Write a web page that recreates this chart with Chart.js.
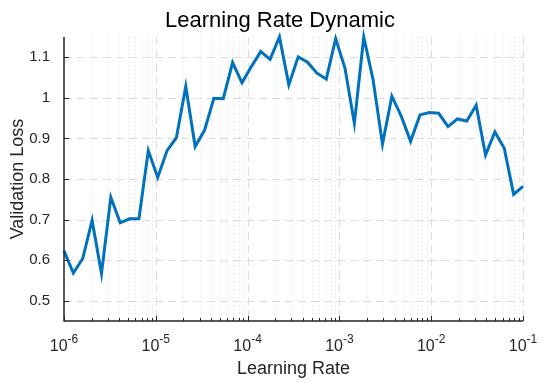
<!DOCTYPE html>
<html>
<head>
<meta charset="utf-8">
<script src="https://cdn.jsdelivr.net/npm/chart.js@4"></script>
<style>
  html, body { margin: 0; padding: 0; background: #ffffff; }
  #wrap { width: 550px; height: 386px; }
</style>
</head>
<body>
<div id="wrap"><canvas id="c" width="550" height="386"></canvas></div>
<script>
// ---- data ----
const learningRates = [
  1.000e-6, 1.265e-6, 1.600e-6, 2.024e-6, 2.560e-6, 3.237e-6, 4.095e-6, 5.179e-6, 6.551e-6, 8.286e-6,
  1.048e-5, 1.326e-5, 1.677e-5, 2.121e-5, 2.683e-5, 3.393e-5, 4.292e-5, 5.429e-5, 6.866e-5, 8.685e-5,
  1.099e-4, 1.389e-4, 1.758e-4, 2.223e-4, 2.812e-4, 3.556e-4, 4.498e-4, 5.690e-4, 7.197e-4, 9.103e-4,
  1.151e-3, 1.456e-3, 1.842e-3, 2.330e-3, 2.947e-3, 3.728e-3, 4.715e-3, 5.964e-3, 7.543e-3, 9.541e-3,
  1.207e-2, 1.526e-2, 1.931e-2, 2.442e-2, 3.089e-2, 3.907e-2, 4.942e-2, 6.251e-2, 7.906e-2, 1.000e-1
];
const validationLoss = [
  0.623, 0.568, 0.604, 0.698, 0.567, 0.755, 0.692, 0.702, 0.702, 0.870,
  0.804, 0.870, 0.902, 1.028, 0.880, 0.920, 0.999, 0.998, 1.087, 1.037,
  1.077, 1.114, 1.095, 1.150, 1.032, 1.101, 1.088, 1.061, 1.046, 1.146,
  1.073, 0.937, 1.150, 1.044, 0.886, 1.004, 0.955, 0.893, 0.958, 0.964,
  0.962, 0.929, 0.948, 0.943, 0.982, 0.859, 0.916, 0.876, 0.762, 0.782
];
const xTickExponents = [-6, -5, -4, -3, -2, -1];
const xMinorMultipliers = [2, 3, 4, 5, 6, 7, 8, 9];
const yTicks = [0.5, 0.6, 0.7, 0.8, 0.9, 1.0, 1.1];
const yTickLabels = ['0.5', '0.6', '0.7', '0.8', '0.9', '1', '1.1'];
const titleText = 'Learning Rate Dynamic';
const xLabel = 'Learning Rate';
const yLabel = 'Validation Loss';

const TEXT = '#262626';
const GRID = '#dcdcdc';
const FONT = "'Liberation Sans', Arial, Helvetica, sans-serif";

const matlabAxes = {
  id: 'matlabAxes',
  beforeDatasetsDraw(chart) {
    const { ctx, chartArea: a, scales: { x, y } } = chart;
    ctx.save();
    ctx.lineWidth = 1;
    ctx.strokeStyle = GRID;
    // minor vertical grid (dotted)
    ctx.setLineDash([1, 3]);
    for (let i = 0; i < xTickExponents.length - 1; i++) {
      for (const k of xMinorMultipliers) {
        const px = Math.round(x.getPixelForValue(k * Math.pow(10, xTickExponents[i]))) + 0.5;
        ctx.beginPath(); ctx.moveTo(px, a.top); ctx.lineTo(px, a.bottom); ctx.stroke();
      }
    }
    // major grid (dashed)
    ctx.setLineDash([8, 5]);
    for (const e of xTickExponents) {
      const px = Math.round(x.getPixelForValue(Math.pow(10, e))) + 0.5;
      if (px < a.left + 2) continue;
      ctx.beginPath(); ctx.moveTo(px, a.top); ctx.lineTo(px, a.bottom); ctx.stroke();
    }
    for (const v of yTicks) {
      const py = Math.round(y.getPixelForValue(v)) + 0.5;
      ctx.beginPath(); ctx.moveTo(a.left, py); ctx.lineTo(a.right, py); ctx.stroke();
    }
    ctx.restore();
  },
  afterDraw(chart) {
    const { ctx, chartArea: a, scales: { x, y } } = chart;
    ctx.save();
    ctx.setLineDash([]);
    ctx.strokeStyle = TEXT;
    ctx.lineWidth = 1.5;
    // axis lines
    ctx.beginPath();
    ctx.moveTo(a.left, a.top);
    ctx.lineTo(a.left, a.bottom);
    ctx.lineTo(a.right, a.bottom);
    ctx.stroke();
    ctx.lineWidth = 1;
    // y ticks (inward)
    for (const v of yTicks) {
      const py = Math.round(y.getPixelForValue(v)) + 0.5;
      ctx.beginPath(); ctx.moveTo(a.left, py); ctx.lineTo(a.left + 5, py); ctx.stroke();
    }
    // x major / minor ticks (inward)
    for (let i = 0; i < xTickExponents.length; i++) {
      const e = xTickExponents[i];
      const px = Math.round(x.getPixelForValue(Math.pow(10, e))) + 0.5;
      ctx.beginPath(); ctx.moveTo(px, a.bottom); ctx.lineTo(px, a.bottom - 5); ctx.stroke();
      if (i < xTickExponents.length - 1) {
        for (const k of xMinorMultipliers) {
          const qx = Math.round(x.getPixelForValue(k * Math.pow(10, e))) + 0.5;
          ctx.beginPath(); ctx.moveTo(qx, a.bottom); ctx.lineTo(qx, a.bottom - 3); ctx.stroke();
        }
      }
    }
    // x tick labels 10^n
    ctx.fillStyle = TEXT;
    ctx.textBaseline = 'alphabetic';
    ctx.textAlign = 'left';
    const baseFont = '16px ' + FONT;
    const supFont = '12px ' + FONT;
    for (const e of xTickExponents) {
      const px = x.getPixelForValue(Math.pow(10, e));
      ctx.font = baseFont;
      const w1 = ctx.measureText('10').width;
      ctx.font = supFont;
      const sup = String(e);
      const w2 = ctx.measureText(sup).width;
      const x0 = px - (w1 + w2) / 2;
      const baseY = a.bottom + 30;
      ctx.font = baseFont;
      ctx.fillText('10', x0, baseY);
      ctx.font = supFont;
      ctx.fillText(sup, x0 + w1, baseY - 8);
    }
    // title
    ctx.fillStyle = '#000000';
    ctx.textAlign = 'center';
    ctx.font = '22px ' + FONT;
    ctx.fillText(titleText, 280, 27);
    ctx.restore();
  }
};

new Chart(document.getElementById('c'), {
  type: 'line',
  data: {
    datasets: [{
      data: learningRates.map((lr, i) => ({ x: lr, y: validationLoss[i] })),
      borderColor: '#0072BD',
      borderWidth: 3,
      pointRadius: 0,
      tension: 0,
      fill: false,
      clip: false
    }]
  },
  options: {
    responsive: false,
    devicePixelRatio: 1,
    animation: false,
    layout: { padding: { left: 0, right: 27, top: 37, bottom: 0 } },
    plugins: {
      legend: { display: false },
      tooltip: { enabled: false },
      title: { display: false }
    },
    scales: {
      x: {
        type: 'logarithmic',
        min: 1e-6,
        max: 1e-1,
        grid: { display: false, drawTicks: false },
        border: { display: false },
        ticks: { display: false },
        title: {
          display: true,
          text: xLabel,
          color: TEXT,
          font: { family: FONT, size: 18 },
          padding: { top: 6, bottom: 6 }
        },
        afterFit(s) { s.height = 65; }
      },
      y: {
        min: 0.45,
        max: 1.15,
        grid: { display: false, drawTicks: false },
        border: { display: false },
        afterBuildTicks(s) { s.ticks = yTicks.map(v => ({ value: v })); },
        ticks: {
          color: TEXT,
          padding: 14,
          font: { family: FONT, size: 15 },
          callback: (v, i) => yTickLabels[i]
        },
        title: {
          display: true,
          text: yLabel,
          color: TEXT,
          font: { family: FONT, size: 18 },
          padding: { top: 7, bottom: 0 }
        },
        afterFit(s) { s.width = 64; }
      }
    }
  },
  plugins: [matlabAxes]
});
</script>
</body>
</html>
